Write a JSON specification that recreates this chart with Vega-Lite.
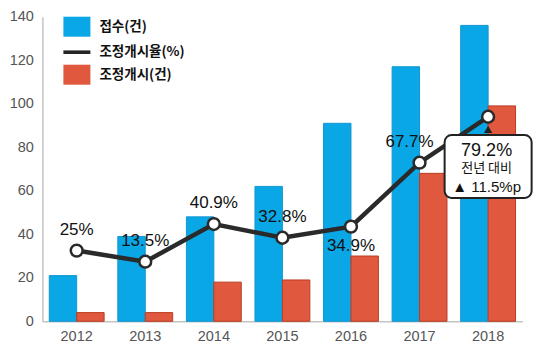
{
  "$schema": "https://vega.github.io/schema/vega-lite/v6.json",
  "width": 480,
  "height": 304.6,
  "autosize": {"type": "none"},
  "padding": {"left": 42.4, "top": 16.7, "right": 17.6, "bottom": 32.7},
  "background": "white",
  "config": {"view": {"stroke": null}, "font": "Liberation Sans"},
  "datasets": {
    "bars": [
      {"year": "2012", "series": "접수(건)", "value": 21},
      {"year": "2012", "series": "조정개시(건)", "value": 4},
      {"year": "2013", "series": "접수(건)", "value": 39},
      {"year": "2013", "series": "조정개시(건)", "value": 4},
      {"year": "2014", "series": "접수(건)", "value": 48},
      {"year": "2014", "series": "조정개시(건)", "value": 18},
      {"year": "2015", "series": "접수(건)", "value": 62},
      {"year": "2015", "series": "조정개시(건)", "value": 19},
      {"year": "2016", "series": "접수(건)", "value": 91},
      {"year": "2016", "series": "조정개시(건)", "value": 30},
      {"year": "2017", "series": "접수(건)", "value": 117},
      {"year": "2017", "series": "조정개시(건)", "value": 68},
      {"year": "2018", "series": "접수(건)", "value": 136},
      {"year": "2018", "series": "조정개시(건)", "value": 99}
    ],
    "rate": [
      {"year": "2012", "level": 32.5, "label": "25%"},
      {"year": "2013", "level": 27.4, "label": "13.5%"},
      {"year": "2014", "level": 44.7, "label": "40.9%"},
      {"year": "2015", "level": 38.4, "label": "32.8%"},
      {"year": "2016", "level": 43.5, "label": "34.9%"},
      {"year": "2017", "level": 72.9, "label": "67.7%"},
      {"year": "2018", "level": 94, "label": "79.2%", "note": "전년 대비", "change": "▲ 11.5%p"}
    ]
  },
  "layer": [
    {
      "data": {"name": "bars"},
      "mark": {"type": "bar", "strokeWidth": 1},
      "encoding": {
        "x": {
          "field": "year", "type": "nominal",
          "scale": {"paddingInner": 0.2, "paddingOuter": 0.1},
          "axis": {"title": null, "labelAngle": 0, "ticks": false, "domainColor": "#c4c4c4", "domainWidth": 1.5,
                   "labelFont": "Liberation Sans", "labelFontSize": 14.5, "labelColor": "#555555", "labelPadding": 8}
        },
        "xOffset": {"field": "series", "type": "nominal", "scale": {"domain": ["접수(건)", "조정개시(건)"], "paddingInner": 0, "paddingOuter": 0}},
        "y": {
          "field": "value", "type": "quantitative",
          "scale": {"domain": [0, 140], "nice": false},
          "axis": {"title": null, "ticks": false, "grid": false, "values": [0, 20, 40, 60, 80, 100, 120, 140],
                   "domainColor": "#c4c4c4", "domainWidth": 1.5, "labelFont": "Liberation Sans", "labelFontSize": 14.5,
                   "labelColor": "#555555", "labelPadding": 9}
        },
        "color": {
          "field": "series", "type": "nominal",
          "scale": {"domain": ["접수(건)", "조정개시율(%)", "조정개시(건)"], "range": ["#0aa7e6", "#262626", "#e0583d"]},
          "legend": {
            "orient": "none", "legendX": 24.5, "legendY": 0, "title": null, "padding": 0,
            "symbolSize": 400, "symbolStrokeWidth": 0, "symbolOpacity": 1,
            "labelFont": "Noto Sans CJK KR", "labelFontSize": 13.5, "labelFontWeight": "bold", "labelColor": "#111111",
            "labelOffset": 12.5, "rowPadding": 5.5,
            "encode": {"symbols": {"update": {"shape": {"signal": "datum.value === '조정개시율(%)' ? 'M-1.35,-0.18L1.35,-0.18L1.35,0.18L-1.35,0.18Z' : 'M-1.35,-1L1.35,-1L1.35,1L-1.35,1Z'"}}}}
          }
        },
        "stroke": {
          "field": "series", "type": "nominal",
          "scale": {"domain": ["접수(건)", "조정개시(건)"], "range": ["#1496cf", "#b93d22"]},
          "legend": null
        }
      }
    },
    {
      "data": {"name": "rate"},
      "mark": {"type": "line", "strokeWidth": 4.5, "color": "#2a2a2a"},
      "encoding": {
        "x": {"field": "year", "type": "nominal"},
        "y": {"field": "level", "type": "quantitative"}
      }
    },
    {
      "data": {"name": "rate"},
      "mark": {"type": "point", "filled": true, "fill": "white", "stroke": "#2a2a2a", "strokeWidth": 2.5, "size": 140, "opacity": 1},
      "encoding": {
        "x": {"field": "year", "type": "nominal"},
        "y": {"field": "level", "type": "quantitative"}
      }
    },
    {
      "data": {"name": "rate"},
      "transform": [{"filter": "datum.year === '2018'"}],
      "mark": {"type": "bar", "width": 87, "fill": "white", "stroke": "#222222", "strokeWidth": 2, "cornerRadius": 7},
      "encoding": {
        "x": {"field": "year", "type": "nominal"},
        "y": {"datum": 85.6},
        "y2": {"datum": 56.7}
      }
    },
    {
      "data": {"name": "rate"},
      "transform": [{"filter": "datum.year === '2018'"}],
      "mark": {"type": "point", "shape": "triangle-up", "filled": true, "color": "#222222", "size": 70, "opacity": 1},
      "encoding": {
        "x": {"field": "year", "type": "nominal"},
        "y": {"datum": 88.2}
      }
    },
    {
      "data": {"name": "rate"},
      "transform": [{"filter": "datum.year <= '2015'"}],
      "mark": {"type": "text", "dy": -21, "fontSize": 17, "color": "#111111", "font": "Liberation Sans", "baseline": "middle"},
      "encoding": {
        "x": {"field": "year", "type": "nominal"},
        "y": {"field": "level", "type": "quantitative"},
        "text": {"field": "label"}
      }
    },
    {
      "data": {"name": "rate"},
      "transform": [{"filter": "datum.year === '2016'"}],
      "mark": {"type": "text", "dy": 19, "fontSize": 17, "color": "#111111", "font": "Liberation Sans", "baseline": "middle"},
      "encoding": {
        "x": {"field": "year", "type": "nominal"},
        "y": {"field": "level", "type": "quantitative"},
        "text": {"field": "label"}
      }
    },
    {
      "data": {"name": "rate"},
      "transform": [{"filter": "datum.year === '2017'"}],
      "mark": {"type": "text", "dy": -21, "dx": -10, "fontSize": 17, "color": "#111111", "font": "Liberation Sans", "baseline": "middle"},
      "encoding": {
        "x": {"field": "year", "type": "nominal"},
        "y": {"field": "level", "type": "quantitative"},
        "text": {"field": "label"}
      }
    },
    {
      "data": {"name": "rate"},
      "transform": [{"filter": "datum.year === '2018'"}],
      "mark": {"type": "text", "dy": 34.3, "dx": -1.5, "fontSize": 18, "color": "#111111", "font": "Liberation Sans", "baseline": "middle"},
      "encoding": {
        "x": {"field": "year", "type": "nominal"},
        "y": {"field": "level", "type": "quantitative"},
        "text": {"field": "label"}
      }
    },
    {
      "data": {"name": "rate"},
      "transform": [{"filter": "datum.year === '2018'"}],
      "mark": {"type": "text", "dy": 51.3, "dx": -1.5, "fontSize": 13, "color": "#111111", "font": "Noto Sans CJK KR", "baseline": "middle"},
      "encoding": {
        "x": {"field": "year", "type": "nominal"},
        "y": {"field": "level", "type": "quantitative"},
        "text": {"field": "note"}
      }
    },
    {
      "data": {"name": "rate"},
      "transform": [{"filter": "datum.year === '2018'"}],
      "mark": {"type": "text", "dy": 70, "dx": -1.5, "fontSize": 15, "color": "#111111", "font": "Liberation Sans", "baseline": "middle"},
      "encoding": {
        "x": {"field": "year", "type": "nominal"},
        "y": {"field": "level", "type": "quantitative"},
        "text": {"field": "change"}
      }
    }
  ]
}
